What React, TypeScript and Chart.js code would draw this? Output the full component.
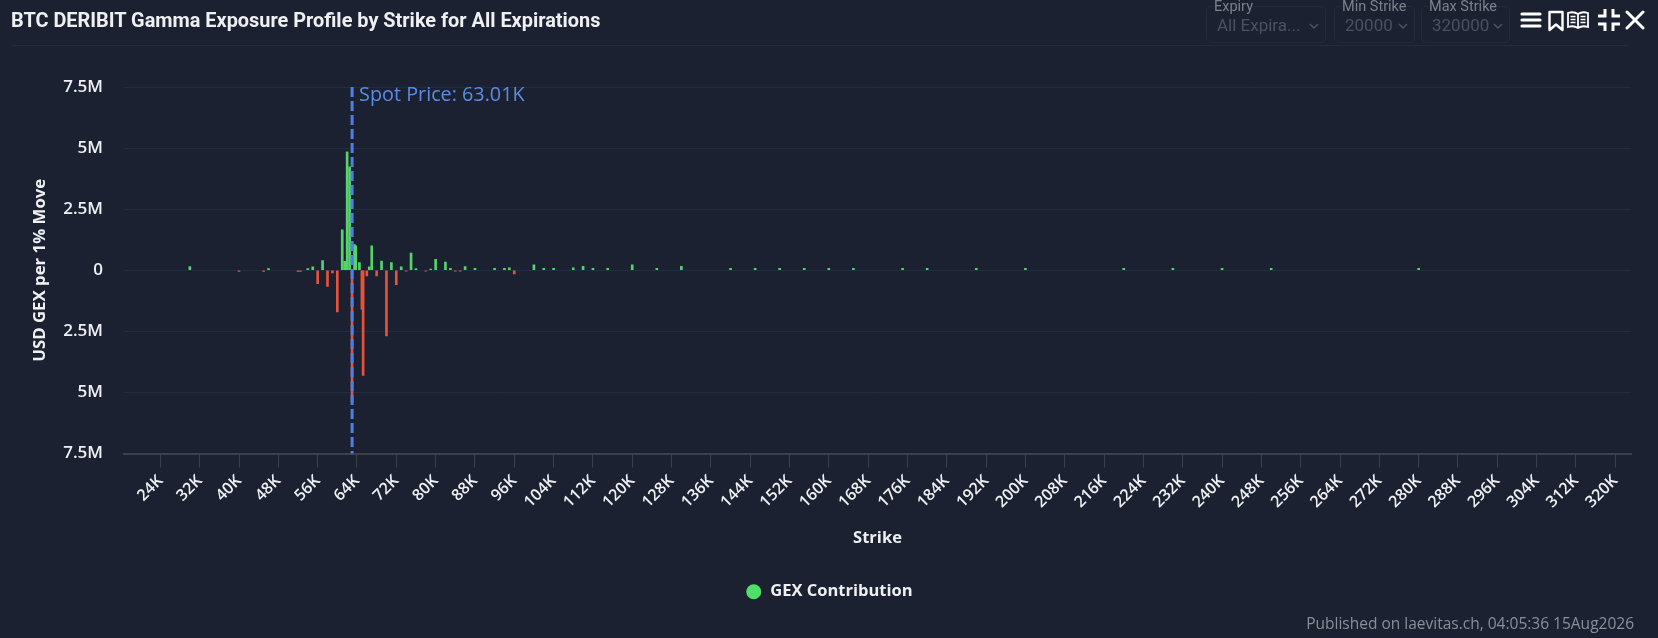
import React, { useEffect, useRef } from "react";
import { Chart, registerables } from "chart.js";

Chart.register(...registerables);

// strike prices (USD) and GEX per 1% move (millions USD)
const strikes = [
  30000, 40000, 45000, 46000, 52000, 52500, 54000, 55000, 56000, 57000,
  58000, 59000, 60000, 61000, 61500, 62000, 62500, 63000, 63500, 63750,
  64500, 65000, 65250, 66000, 66500, 67000, 68000, 69000, 70000, 71000,
  72000, 73000, 74000, 75000, 76000, 78000, 79000, 80000, 82000, 83000,
  84000, 85000, 86000, 88000, 92000, 94000, 95000, 96000, 100000, 102000,
  104000, 108000, 110000, 112000, 115000, 120000, 125000, 130000, 140000, 145000,
  150000, 155000, 160000, 165000, 175000, 180000, 190000, 200000, 220000, 230000,
  240000, 250000, 280000,
];
const gexValues = [
  0.15, -0.05, -0.05, 0.07, -0.05, -0.05, 0.07, 0.14, -0.55, 0.4,
  -0.66, -0.11, -1.71, 1.65, 0.37, 4.85, 4.23, -5.4, 1.05, 1.0,
  0.31, -1.6, -4.3, -0.23, 0.14, 1.0, -0.23, 0.38, -2.69, 0.31,
  -0.59, 0.14, -0.04, 0.7, 0.07, -0.04, 0.05, 0.45, 0.33, 0.08,
  -0.04, -0.04, 0.15, 0.08, 0.08, 0.08, 0.1, -0.15, 0.22, 0.08,
  0.08, 0.1, 0.16, 0.08, 0.08, 0.22, 0.08, 0.16, 0.08, 0.08,
  0.08, 0.08, 0.08, 0.08, 0.08, 0.08, 0.08, 0.08, 0.08, 0.08,
  0.08, 0.08, 0.08,
];
const xTickValues = [
  24000, 32000, 40000, 48000, 56000, 64000, 72000, 80000, 88000, 96000,
  104000, 112000, 120000, 128000, 136000, 144000, 152000, 160000, 168000, 176000,
  184000, 192000, 200000, 208000, 216000, 224000, 232000, 240000, 248000, 256000,
  264000, 272000, 280000, 288000, 296000, 304000, 312000, 320000,
];
const spotPrice = 63010;

const BG = "#1b2130";
const GREEN = "#55d46b";
const RED = "#e5533c";
const LEGEND_GREEN = "#4fe06a";
const SPOT = "#4f7ee6";
const TEXT = "#eef0f3";

const spotLinePlugin = {
  id: "spotLine",
  afterDatasetsDraw(chart: any) {
    const { ctx, chartArea, scales } = chart;
    const x = scales.x.getPixelForValue(spotPrice);
    ctx.save();
    ctx.strokeStyle = SPOT;
    ctx.lineWidth = 3;
    ctx.setLineDash([10, 4]);
    ctx.beginPath();
    ctx.moveTo(x, chartArea.top);
    ctx.lineTo(x, chartArea.bottom);
    ctx.stroke();
    ctx.setLineDash([]);
    ctx.fillStyle = "#5b8ce6";
    ctx.font = "400 19.8px 'Open Sans'";
    ctx.textBaseline = "middle";
    ctx.fillText(`Spot Price: ${(spotPrice / 1000).toFixed(2)}K`, x + 7, chartArea.top + 8);
    ctx.restore();
  },
};

const GexChart: React.FC = () => {
  const chartRef = useRef<HTMLCanvasElement>(null);

  useEffect(() => {
    if (!chartRef.current) return;
    const chart = new Chart(chartRef.current, {
      type: "bar",
      data: {
        datasets: [
          {
            label: "GEX Contribution",
            data: strikes.map((s, i) => ({ x: s, y: gexValues[i] })),
            backgroundColor: (c: any) => ((c.raw?.y ?? 0) >= 0 ? GREEN : RED),
            barThickness: 2,
          },
        ],
      },
      options: {
        animation: false,
        responsive: true,
        maintainAspectRatio: false,
        layout: { padding: { top: 87, right: 27, left: 27, bottom: 28 } },
        scales: {
          x: {
            type: "linear",
            min: 16600,
            max: 323200,
            offset: false,
            afterBuildTicks: (scale: any) => {
              scale.ticks = xTickValues.map((v) => ({ value: v }));
            },
            afterFit: (scale: any) => {
              scale.height = 120;
            },
            ticks: {
              autoSkip: false,
              minRotation: 45,
              maxRotation: 45,
              padding: 4,
              color: TEXT,
              font: { family: "'Open Sans'", size: 16, weight: "600" },
              callback: (v: any) => `${Math.round(Number(v) / 1000)}K`,
            },
            grid: {
              offset: false,
              drawOnChartArea: false,
              drawTicks: true,
              tickLength: 14,
              tickColor: "#3b4049",
            },
            border: { color: "#3b4049", width: 2 },
            title: {
              display: true,
              text: "Strike",
              color: TEXT,
              font: { family: "'Open Sans'", size: 16.5, weight: "700" },
              padding: { top: 0, bottom: 25 },
            },
          },
          y: {
            min: -7.5,
            max: 7.5,
            afterFit: (scale: any) => {
              scale.width = 97;
            },
            ticks: {
              stepSize: 2.5,
              padding: 21,
              color: TEXT,
              font: { family: "'Open Sans'", size: 17, weight: "600" },
              callback: (v: any) => (Number(v) === 0 ? "0" : `${Math.abs(Number(v))}M`),
            },
            grid: { color: "#202e44", drawTicks: false, lineWidth: 1 },
            border: { display: false },
            title: {
              display: true,
              text: "USD GEX per 1% Move",
              color: TEXT,
              font: { family: "'Open Sans'", size: 16.8, weight: "700" },
              padding: { top: 3, bottom: 0 },
            },
          },
        },
        plugins: {
          legend: {
            position: "bottom",
            labels: {
              color: TEXT,
              font: { family: "'Open Sans'", size: 16.5, weight: "700" },
              usePointStyle: true,
              pointStyle: "circle",
              boxWidth: 17,
              boxHeight: 10.6,
              generateLabels: (c: any) =>
                Chart.defaults.plugins.legend.labels
                  .generateLabels(c)
                  .map((it: any) => ({
                    ...it,
                    fillStyle: LEGEND_GREEN,
                    strokeStyle: LEGEND_GREEN,
                    lineWidth: 0,
                    pointStyle: "circle",
                  })),
            },
          },
          tooltip: { enabled: false },
        },
      },
      plugins: [spotLinePlugin],
    });
    return () => {
      chart.destroy();
    };
  }, []);

  return <canvas ref={chartRef} />;
};

const Chevron: React.FC<{ left: number }> = ({ left }) => (
  <svg
    width="10"
    height="6"
    viewBox="0 0 10 6"
    style={{ position: "absolute", left, top: 23 }}
  >
    <path d="M1 1 L5 5 L9 1" stroke="#4d5361" strokeWidth="1.4" fill="none" />
  </svg>
);

const Select: React.FC<{ left: number; width: number; label: string; value: string }> = ({
  left,
  width,
  label,
  value,
}) => (
  <>
    <div
      style={{
        position: "absolute",
        left,
        top: 6,
        width,
        height: 37,
        border: "1px solid rgba(255,255,255,0.045)",
        borderRadius: 5,
        boxSizing: "border-box",
      }}
    />
    <div
      style={{
        position: "absolute",
        left: left + 7,
        top: -2,
        fontFamily: "Roboto",
        fontSize: 14.5,
        color: "#7c818b",
        background: BG,
        padding: "0 1px",
        lineHeight: "17px",
      }}
    >
      {label}
    </div>
    <div
      style={{
        position: "absolute",
        left: left + 11,
        top: 15,
        fontFamily: "Roboto",
        fontSize: 17,
        color: "#4b515e",
        lineHeight: "20px",
      }}
    >
      {value}
    </div>
    <Chevron left={left + width - 17} />
  </>
);

const iconStyle = (left: number): React.CSSProperties => ({ position: "absolute", left, top: 10 });

const Header: React.FC = () => (
  <>
    <div
      style={{
        position: "absolute",
        left: 11,
        top: 9,
        fontFamily: "Roboto",
        fontWeight: 700,
        fontSize: 19.9,
        lineHeight: "24px",
        color: TEXT,
        whiteSpace: "nowrap",
      }}
    >
      BTC DERIBIT Gamma Exposure Profile by Strike for All Expirations
    </div>
    <div
      style={{
        position: "absolute",
        left: 12,
        top: 45,
        width: 1616,
        height: 1,
        background: "#1f2d42",
      }}
    />
    <Select left={1206} width={120} label="Expiry" value="All Expira..." />
    <Select left={1334} width={81} label="Min Strike" value="20000" />
    <Select left={1421} width={89} label="Max Strike" value="320000" />
    <svg width="22" height="20" viewBox="0 0 22 20" style={iconStyle(1520)}>
      <path d="M2 4 H20 M2 10 H20 M2 16 H20" stroke="#fff" strokeWidth="3.2" strokeLinecap="round" />
    </svg>
    <svg width="18" height="22" viewBox="0 0 18 22" style={iconStyle(1547)}>
      <path d="M2.5 2 H15.5 V20 L9 14.5 L2.5 20 Z" stroke="#fff" strokeWidth="2.4" fill="none" strokeLinejoin="round" />
    </svg>
    <svg width="24" height="20" viewBox="0 0 24 20" style={iconStyle(1566)}>
      <path
        d="M12 4 C9 2 5 2 2 3 V17 C5 16 9 16 12 18 C15 16 19 16 22 17 V3 C19 2 15 2 12 4 Z M12 4 V18"
        stroke="#fff"
        strokeWidth="1.8"
        fill="none"
      />
      <path
        d="M4.5 6.5 H9.5 M4.5 9.5 H9.5 M4.5 12.5 H9.5 M14.5 6.5 H19.5 M14.5 9.5 H19.5 M14.5 12.5 H19.5"
        stroke="#fff"
        strokeWidth="1.3"
      />
    </svg>
    <svg width="24" height="24" viewBox="0 0 24 24" style={{ position: "absolute", left: 1597, top: 8 }}>
      <path
        d="M8 1 V8 H1 M16 1 V8 H23 M8 23 V16 H1 M16 23 V16 H23"
        stroke="#fff"
        strokeWidth="3"
        fill="none"
      />
    </svg>
    <svg width="20" height="20" viewBox="0 0 20 20" style={iconStyle(1625)}>
      <path d="M2 2 L18 18 M18 2 L2 18" stroke="#fff" strokeWidth="3" strokeLinecap="round" />
    </svg>
  </>
);

export default function App() {
  useEffect(() => {
    document.body.style.margin = "0";
    document.body.style.background = BG;
  }, []);

  return (
    <div
      style={{
        position: "absolute",
        left: 0,
        top: 0,
        width: 1658,
        height: 638,
        background: BG,
        overflow: "hidden",
      }}
    >
      <div style={{ position: "absolute", left: 0, top: 0, width: 1658, height: 638 }}>
        <GexChart />
      </div>
      <Header />
      <div
        style={{
          position: "absolute",
          right: 24,
          top: 612,
          fontFamily: "'Open Sans'",
          fontSize: 15.5,
          lineHeight: "22px",
          color: "#8a8f99",
          whiteSpace: "nowrap",
        }}
      >
        Published on laevitas.ch, 04:05:36 15Aug2026
      </div>
    </div>
  );
}
